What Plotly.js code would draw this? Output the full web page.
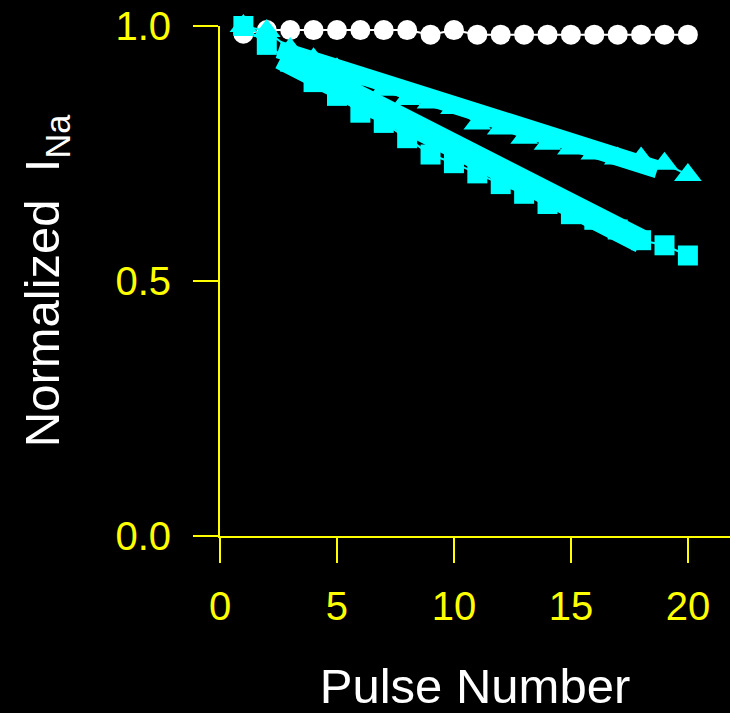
<!DOCTYPE html>
<html>
<head>
<meta charset="utf-8">
<script src="https://cdn.plot.ly/plotly-3.0.1.min.js"></script>
<style>html,body{margin:0;padding:0;background:#000;}#chart{width:730px;height:713px;}</style>
</head>
<body>
<div id="chart"></div>
<script>
// Pulse numbers
const pulses = [1,2,3,4,5,6,7,8,9,10,11,12,13,14,15,16,17,18,19,20];
// Control (white circles)
const controlValues = [0.985,0.992,0.992,0.992,0.992,0.992,0.992,0.992,0.983,0.992,0.983,0.983,0.983,0.983,0.983,0.983,0.983,0.983,0.983,0.983];
// Triangles (cyan)
const triangleValues = [1.0,0.99,0.955,0.935,0.915,0.895,0.875,0.857,0.850,0.839,0.809,0.799,0.781,0.769,0.760,0.750,0.740,0.740,0.730,0.708];
// Squares (cyan)
const squareValues = [1.0,0.963,0.930,0.890,0.863,0.830,0.810,0.780,0.748,0.731,0.711,0.690,0.671,0.651,0.631,0.620,0.601,0.580,0.570,0.550];
// Fitted lines
const triangleFitX = [2.5, 18.7];
const triangleFitY = [0.954, 0.719];
const squareFitX = [2.6, 18];
const squareFitY = [0.938, 0.578];
// Axis ticks
const xTicks = [0,5,10,15,20];
const yTicks = [0,0.5,1.0];
const yTickText = ['0.0','0.5','1.0'];

const cyan = '#00ffff';
const yellow = '#ffff00';
const fontFam = '"Liberation Sans", Arial, sans-serif';

const traces = [
  {x: pulses, y: controlValues, mode: 'lines+markers', cliponaxis: false,
   line: {color: '#ffffff', width: 2},
   marker: {symbol: 'circle', size: 20, color: '#ffffff'}},
  {x: pulses, y: triangleValues, mode: 'lines+markers', cliponaxis: false,
   line: {color: cyan, width: 2},
   marker: {symbol: 'triangle-up', size: 24, color: cyan}},
  {x: triangleFitX, y: triangleFitY, mode: 'lines', cliponaxis: false,
   line: {color: cyan, width: 18}},
  {x: pulses, y: squareValues, mode: 'lines+markers', cliponaxis: false,
   line: {color: cyan, width: 2},
   marker: {symbol: 'square', size: 20, color: cyan}},
  {x: squareFitX, y: squareFitY, mode: 'lines', cliponaxis: false,
   line: {color: cyan, width: 24}}
];

const axisCommon = {
  showgrid: false, zeroline: false, showline: true,
  linecolor: yellow, linewidth: 2,
  ticks: 'outside', ticklen: 25, tickwidth: 2, tickcolor: yellow,
  tickfont: {family: fontFam, size: 40, color: yellow}
};

const layout = {
  width: 730, height: 713,
  margin: {l: 220, r: 0, t: 26, b: 177},
  paper_bgcolor: '#000000', plot_bgcolor: '#000000',
  showlegend: false,
  font: {family: fontFam},
  xaxis: Object.assign({}, axisCommon, {
    range: [0, 21.8], tickmode: 'array', tickvals: xTicks,
    ticklabelstandoff: 9,
    title: {text: 'Pulse Number', font: {family: fontFam, size: 49, color: '#ffffff'}, standoff: 48}
  }),
  yaxis: Object.assign({}, axisCommon, {
    range: [0, 1], tickmode: 'array', tickvals: yTicks, ticktext: yTickText,
    ticklabelstandoff: 14,
    title: {text: 'Normalized&nbsp; I<sub>Na</sub>', font: {family: fontFam, size: 49, color: '#ffffff'}, standoff: 40}
  })
};

Plotly.newPlot('chart', traces, layout, {displayModeBar: false, staticPlot: true});
</script>
</body>
</html>
